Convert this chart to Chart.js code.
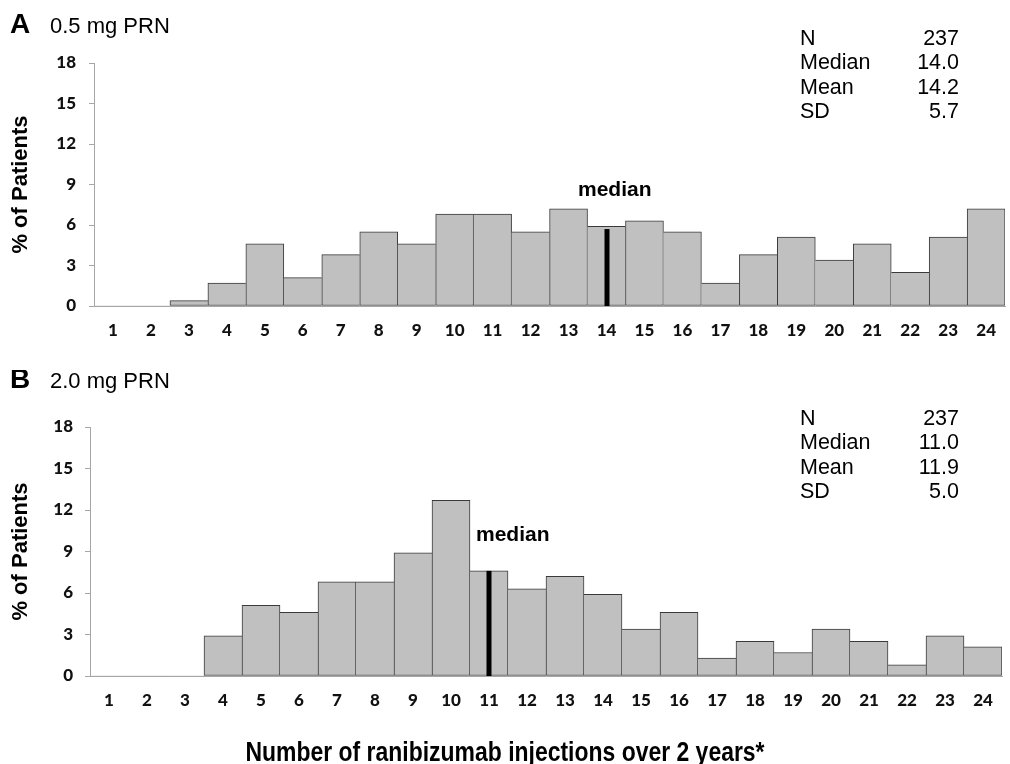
<!DOCTYPE html>
<html><head><meta charset="utf-8">
<script src="https://cdn.jsdelivr.net/npm/chart.js@4.4.1/dist/chart.umd.min.js"></script>
<style>
html,body{margin:0;padding:0;background:#fff;}
#wrap{position:relative;width:1010px;height:764px;overflow:hidden;}
#cA{position:absolute;left:0;top:0;}
#cB{position:absolute;left:0;top:370px;}
</style></head><body>
<div id="wrap"><canvas id="cA" width="1010" height="370"></canvas><canvas id="cB" width="1010" height="394"></canvas></div>
<script>
// ---- data ----
const injections = ['1','2','3','4','5','6','7','8','9','10','11','12','13','14','15','16','17','18','19','20','21','22','23','24'];
const pctA = [0,0,0.4,1.7,4.6,2.1,3.8,5.5,4.6,6.8,6.8,5.5,7.2,5.9,6.3,5.5,1.7,3.8,5.1,3.4,4.6,2.5,5.1,7.2];
const pctB = [0,0,0,2.9,5.1,4.6,6.8,6.8,8.9,12.7,7.6,6.3,7.2,5.9,3.4,4.6,1.3,2.5,1.7,3.4,2.5,0.8,2.9,2.1];
const yTicks = [0,3,6,9,12,15,18];
const statLabels = ['N','Median','Mean','SD'];
const statsA = ['237','14.0','14.2','5.7'];
const statsB = ['237','11.0','11.9','5.0'];
const medianA = '14', medianB = '11';
const medianMarkA = 5.7, medianMarkB = 7.6;
const panelA = ['A','0.5 mg PRN'];
const panelB = ['B','2.0 mg PRN'];
const yTitle = '% of Patients';
const xTitle = 'Number of ranibizumab injections over 2 years*';

const ARIAL = '"Liberation Sans", Arial, sans-serif';
const TICKF = 'Lato, "Open Sans", sans-serif';

function annot(cfg){
  return {
    id:'annot'+cfg.id,
    afterDatasetsDraw(chart){
      const c = chart.ctx, xs = chart.scales.x, ys = chart.scales.y;
      c.save();
      // median mark
      const mx = xs.getPixelForValue(injections.indexOf(cfg.median));
      const y0 = ys.getPixelForValue(0), y1 = ys.getPixelForValue(cfg.medianMark);
      c.fillStyle = '#000';
      c.fillRect(Math.round(mx) - 2.5, y1, 5, y0 - y1);
      // median label
      c.font = 'bold 21px ' + ARIAL;
      c.textAlign = 'left'; c.textBaseline = 'alphabetic';
      c.fillText('median', cfg.medLabelX, cfg.medLabelY);
      // panel label
      c.font = 'bold 28px ' + ARIAL;
      c.fillText(cfg.panel[0], 10, cfg.panelY);
      c.font = '22px ' + ARIAL;
      c.fillText(cfg.panel[1], 50, cfg.panelY);
      // stats
      c.font = '21.5px ' + ARIAL;
      for (let i = 0; i < statLabels.length; i++) {
        const by = cfg.statY + i * 24.4;
        c.textAlign = 'left';
        c.fillText(statLabels[i], 800, by);
        c.textAlign = 'right';
        c.fillText(cfg.stats[i], 959, by);
      }
      if (cfg.xTitle) {
        c.save();
        c.translate(505, cfg.xTitleY);
        c.scale(0.85, 1);
        c.font = 'bold 27px ' + ARIAL;
        c.textAlign = 'center';
        c.fillText(cfg.xTitle, 0, 0);
        c.restore();
      }
      c.restore();
    }
  };
}

function makeChart(id, data, cfg){
  return new Chart(document.getElementById(id), {
    type:'bar',
    data:{labels:injections, datasets:[{
      data:data,
      backgroundColor:'#c0c0c0',
      borderColor:'#3a3a3a',
      borderSkipped:false,
      borderWidth:(ctx)=>{
        const d = ctx.dataset.data, i = ctx.dataIndex, v = d[i];
        if (!v) return 0;
        return {top:1, bottom:1,
          left:(i===0 || d[i-1] < v) ? 1 : 0,
          right:(i===d.length-1 || d[i+1] <= v) ? 1 : 0};
      },
      barPercentage:1, categoryPercentage:1
    }]},
    options:{
      responsive:false, animation:false, events:[],
      layout:{padding:{top:cfg.top, right:cfg.right, left:0, bottom:0}},
      plugins:{legend:{display:false}, tooltip:{enabled:false}},
      scales:{
        x:{
          grid:{display:true, drawOnChartArea:false, drawTicks:false, color:'rgba(0,0,0,0)'},
          border:{display:true, color:'#a6a6a6', width:1},
          ticks:{font:{family:TICKF, weight:'900', size:17}, color:'#111', padding:14, maxRotation:0, autoSkip:false},
          afterFit:(s)=>{ s.height = cfg.xh; }
        },
        y:{
          min:0, max:18,
          afterBuildTicks:(s)=>{ s.ticks = yTicks.map(v=>({value:v})); },
          grid:{drawOnChartArea:false, tickLength:5, color:'#a6a6a6'},
          border:{display:true, color:'#a6a6a6', width:1},
          ticks:{font:{family:TICKF, weight:'900', size:17}, color:'#111', padding:cfg.ypad},
          title:{display:true, text:yTitle, font:{family:ARIAL, weight:'bold', size:22}, color:'#000', padding:{top:8, bottom:0}},
          afterFit:(s)=>{ s.width = cfg.yw; }
        }
      }
    },
    plugins:[annot(cfg)]
  });
}

makeChart('cA', pctA, {id:'A', top:63, right:0, xh:64, yw:94, ypad:13,
  median:medianA, medianMark:medianMarkA, medLabelX:578, medLabelY:196,
  panel:panelA, panelY:33, stats:statsA, statY:45});
makeChart('cB', pctB, {id:'B', top:57, right:8, xh:88, yw:90, ypad:12,
  median:medianB, medianMark:medianMarkB, medLabelX:476, medLabelY:171,
  panel:panelB, panelY:18, stats:statsB, statY:55, xTitle:xTitle, xTitleY:391});
</script>
</body></html>
